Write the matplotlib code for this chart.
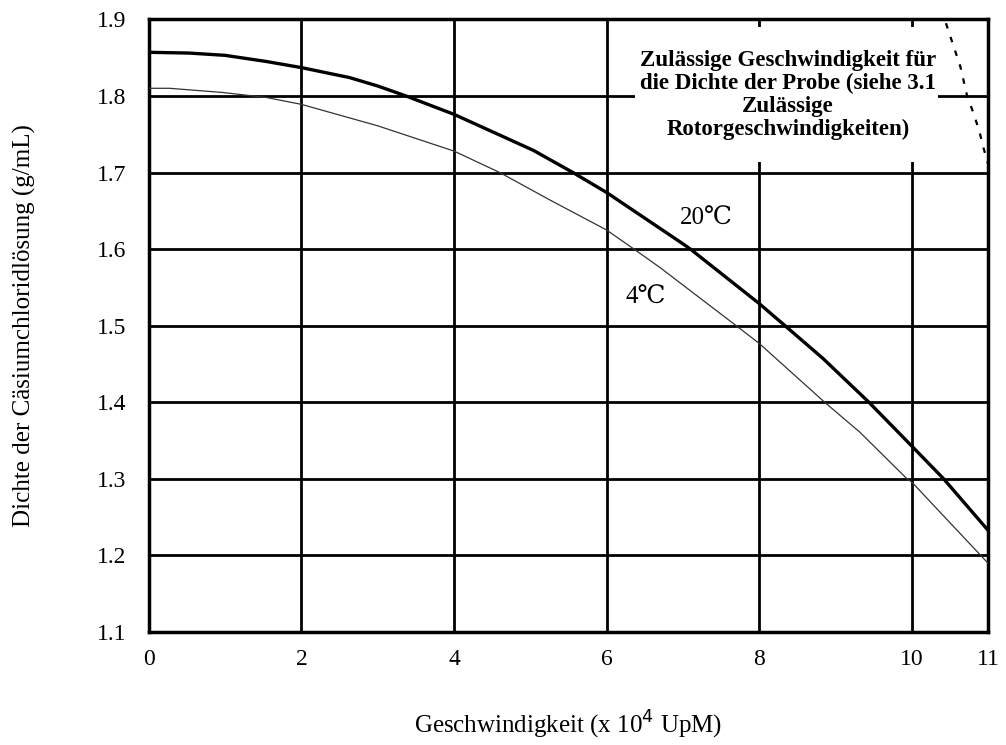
import numpy as np
import matplotlib
matplotlib.use('Agg')
import matplotlib.pyplot as plt
from matplotlib.patches import Rectangle

plt.rcParams['font.family'] = ['Liberation Serif', 'DejaVu Serif']

# Data
x_20 = [0, 0.53, 1, 1.54, 2, 2.63, 3, 3.37, 4, 5.04, 5.56, 6, 7, 7.1, 8, 8.34,
        8.84, 9.44, 10, 10.42, 11]
y_20 = [1.857, 1.856, 1.853, 1.845, 1.837, 1.824, 1.813, 1.80, 1.776, 1.729,
        1.70, 1.674, 1.607, 1.60, 1.529, 1.50, 1.457, 1.40, 1.343, 1.30, 1.233]

x_4 = [0, 0.27, 0.97, 1.54, 2, 3, 4, 4.6, 5.26, 6, 6.36, 6.7, 7.7, 8, 8.86,
       9.32, 9.94, 10, 11]
y_4 = [1.81, 1.81, 1.8045, 1.798, 1.789, 1.761, 1.728, 1.70, 1.664, 1.625,
       1.60, 1.576, 1.50, 1.477, 1.40, 1.361, 1.30, 1.296, 1.19]

x_limit = [10.45, 10.56, 10.64, 10.73, 10.81, 10.89, 10.94, 11.0]
y_limit = [1.895, 1.862, 1.838, 1.799, 1.778, 1.753, 1.733, 1.712]

x_ticks = [0, 2, 4, 6, 8, 10, 11]
y_ticks = [1.1, 1.2, 1.3, 1.4, 1.5, 1.6, 1.7, 1.8, 1.9]

box_text = ('Zulässige Geschwindigkeit für\ndie Dichte der Probe (siehe 3.1\n'
            'Zulässige\nRotorgeschwindigkeiten)')

# Plot
fig = plt.figure(figsize=(10.06, 7.45), dpi=100)
ax = fig.add_axes([0.148, 0.1517, 0.834, 0.8223])

ax.plot(x_20, y_20, color='black', lw=2.4, zorder=3)
ax.plot(x_4, y_4, color='#333333', lw=0.9, zorder=3)
ax.plot(x_limit, y_limit, color='black', lw=1.6, ls=(0, (2.5, 4)), zorder=3)

ax.set_xlim(0, 11)
ax.set_ylim(1.1, 1.9)
ax.set_xticks(x_ticks)
ax.set_yticks(y_ticks)
ax.set_xticklabels([str(t) for t in x_ticks])
ax.set_yticklabels(['%.1f' % t for t in y_ticks])
ax.tick_params(length=0, labelsize=17)
ax.tick_params(axis='x', pad=12)
ax.tick_params(axis='y', pad=16)

ax.set_axisbelow(True)
ax.grid(True, color='black', lw=2)
for s in ax.spines.values():
    s.set_linewidth(2.5)

# white box behind the note
ax.add_patch(Rectangle((6.37, 1.714), 3.98, 0.176, facecolor='white',
                       edgecolor='none', zorder=1))
ax.text(8.38, 1.801, box_text, ha='center', va='center', fontsize=16.5,
        fontweight='bold', linespacing=1.12, zorder=4)

ax.text(7.31, 1.639, '20℃', ha='center', va='center', fontsize=18, zorder=4)
ax.text(6.52, 1.536, '4℃', ha='center', va='center', fontsize=18, zorder=4)

ax.set_xlabel('Geschwindigkeit (x 10$^{4}$ UpM)', fontsize=18, labelpad=28)
ax.set_ylabel('Dichte der Cäsiumchloridlösung (g/mL)', fontsize=18, labelpad=44)

plt.savefig('out.png', dpi=100)
